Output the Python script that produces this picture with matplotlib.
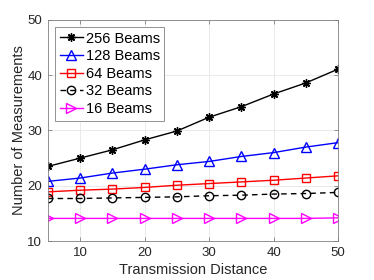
import matplotlib
matplotlib.use("Agg")
import matplotlib.pyplot as plt

plt.rcParams['font.family'] = ['Liberation Sans', 'DejaVu Sans']

distance = [5, 10, 15, 20, 25, 30, 35, 40, 45, 50]
beams256 = [23.5, 25.0, 26.5, 28.3, 29.9, 32.4, 34.3, 36.6, 38.6, 41.1]
beams128 = [20.8, 21.4, 22.3, 23.0, 23.8, 24.4, 25.3, 26.0, 27.0, 27.8]
beams64 = [18.9, 19.2, 19.4, 19.7, 20.1, 20.4, 20.7, 21.0, 21.4, 21.8]
beams32 = [17.7, 17.7, 17.8, 17.9, 18.0, 18.2, 18.3, 18.5, 18.6, 18.8]
beams16 = [14.1, 14.1, 14.1, 14.1, 14.1, 14.1, 14.1, 14.1, 14.1, 14.2]
labels = ['256 Beams', '128 Beams', '64 Beams', '32 Beams', '16 Beams']
xticks = [10, 20, 30, 40, 50]
yticks = [10, 20, 30, 40, 50]

fig = plt.figure(figsize=(3.74, 2.8), dpi=100)
ax = fig.add_axes([0.128, 0.139, 0.776, 0.790])

ms = 6
ax.plot(distance, beams256, color='black', marker=(8, 2, 0), ms=ms, lw=1.0, label=labels[0], mew=1.0)
ax.plot(distance, beams128, color='blue', marker='^', ms=ms + 1, mfc='none', lw=1.0, label=labels[1], mew=1.0)
ax.plot(distance, beams64, color='red', marker='s', ms=ms - 0.5, mfc='none', lw=1.0, label=labels[2], mew=1.0)
ax.plot(distance, beams32, color='black', marker='o', ms=ms, mfc='none', lw=1.0, ls=(0, (4, 3)), label=labels[3], mew=1.0)
ax.plot(distance, beams16, color='magenta', marker='>', ms=ms + 1, mfc='none', lw=1.0, label=labels[4], mew=1.0)

ax.set_xlim(5, 50)
ax.set_ylim(10, 50)
ax.set_xticks(xticks)
ax.set_yticks(yticks)
ax.grid(True, color='#e6e6e6', lw=0.6)
ax.set_axisbelow(True)
for s in ax.spines.values():
    s.set_color('#808080')
    s.set_linewidth(0.6)
ax.tick_params(direction='in', length=3, width=0.6, colors='#808080', labelcolor='#262626', labelsize=9.5, pad=4, top=True, right=True)
ax.set_xlabel('Transmission Distance', fontsize=10.5, color='#262626', labelpad=3)
ax.set_ylabel('Number of Measurements', fontsize=10.5, color='#262626', labelpad=1)

leg = ax.legend(loc='upper left', fontsize=10.5, handlelength=1.6, handletextpad=0.2,
                borderpad=0.3, labelspacing=0.25, fancybox=False, borderaxespad=0.5,
                framealpha=1, edgecolor='#808080')
leg.get_frame().set_linewidth(0.6)

fig.savefig('out.png', dpi=100)
